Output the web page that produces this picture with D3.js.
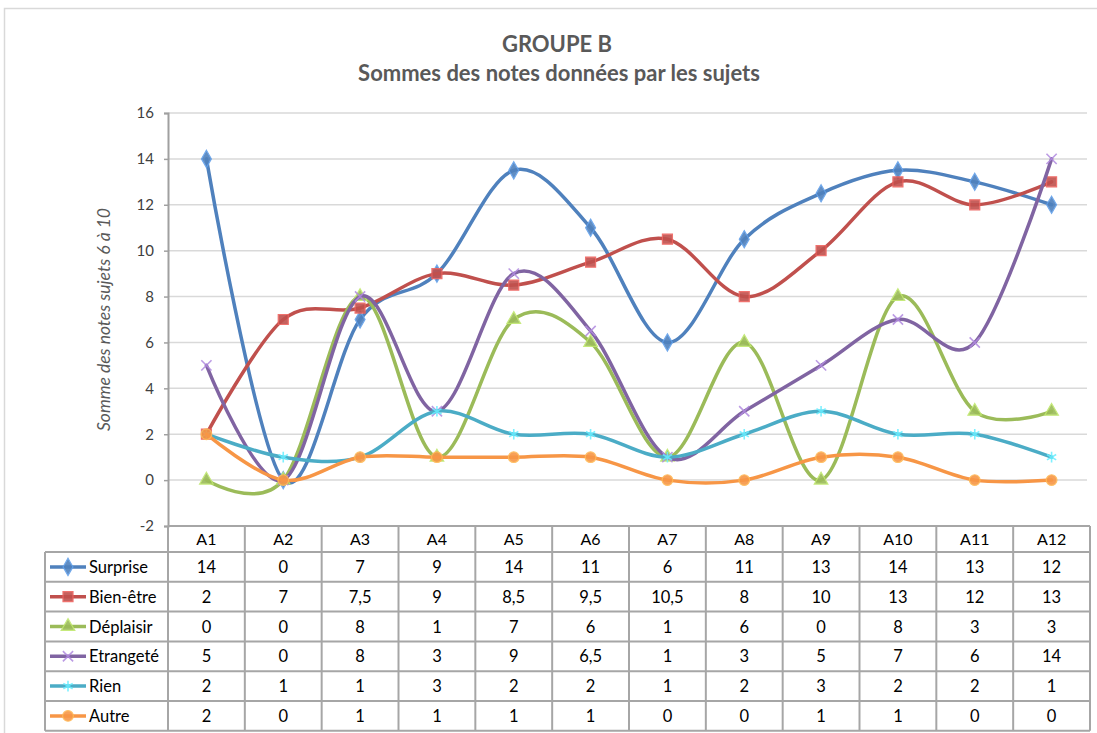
<!DOCTYPE html>
<html>
<head>
<meta charset="utf-8">
<script src="https://cdn.jsdelivr.net/npm/d3@7"></script>
<style>
  body { margin: 0; background: #fff; }
  text { font-family: Lato, "Open Sans", sans-serif; }
</style>
</head>
<body>
<svg id="chart" width="1097" height="733"></svg>
<script>
const categories = ['A1', 'A2', 'A3', 'A4', 'A5', 'A6', 'A7', 'A8', 'A9', 'A10', 'A11', 'A12'];
const seriesNames = ['Surprise', 'Bien-être', 'Déplaisir', 'Etrangeté', 'Rien', 'Autre'];
const surprise = [14, 0, 7, 9, 13.5, 11, 6, 10.5, 12.5, 13.5, 13, 12];
const bienEtre = [2, 7, 7.5, 9, 8.5, 9.5, 10.5, 8, 10, 13, 12, 13];
const deplaisir = [0, 0, 8, 1, 7, 6, 1, 6, 0, 8, 3, 3];
const etrangete = [5, 0, 8, 3, 9, 6.5, 1, 3, 5, 7, 6, 14];
const rien = [2, 1, 1, 3, 2, 2, 1, 2, 3, 2, 2, 1];
const autre = [2, 0, 1, 1, 1, 1, 0, 0, 1, 1, 0, 0];
// decimals shown in the data table for each series
const tableDecimals = [0, 1, 1, 1, 1, 1];
const yTicks = [-2, 0, 2, 4, 6, 8, 10, 12, 14, 16];

const colors = ['#4F81BD', '#C0504D', '#9BBB59', '#8064A2', '#4BACC6', '#F79646'];
const symbols = [d3.symbolDiamond, d3.symbolSquare, d3.symbolTriangle, d3.symbolTimes, d3.symbolAsterisk, d3.symbolCircle];
const symbolSizes = [85, 100, 80, 70, 80, 90];
const strokeSymbol = [false, false, false, true, true, false];

const series = [surprise, bienEtre, deplaisir, etrangete, rien, autre].map((values, i) => ({
  name: seriesNames[i], values, color: colors[i], symbol: symbols[i],
  size: symbolSizes[i], stroked: strokeSymbol[i], decimals: tableDecimals[i]
}));

const svg = d3.select('#chart');
const plotLeft = 168, plotRight = 1090, plotTop = 113, plotBottom = 526;
const tableLeft = 45, headerH = 26, rowH = 29.8;

const x = d3.scaleBand().domain(categories).range([plotLeft, plotRight]);
const y = d3.scaleLinear().domain([-2, 16]).range([plotBottom, plotTop]);
const cx = c => x(c) + x.bandwidth() / 2;

// chart border
svg.append('rect').attr('x', 4.5).attr('y', 8.5).attr('width', 1110).attr('height', 740)
  .attr('fill', 'none').attr('stroke', '#d9d9d9').attr('stroke-width', 1.5);

// titles
svg.append('text').attr('x', 557).attr('y', 52).attr('text-anchor', 'middle')
  .attr('font-size', 22).attr('font-weight', 'bold').attr('fill', '#595959').text('GROUPE B');
svg.append('text').attr('x', 559).attr('y', 81).attr('text-anchor', 'middle')
  .attr('font-size', 22).attr('font-weight', 'bold').attr('fill', '#595959').text('Sommes des notes données par les sujets');

// gridlines
svg.append('g').selectAll('line').data(yTicks.filter(t => t > -2)).join('line')
  .attr('x1', plotLeft).attr('x2', plotRight - 3)
  .attr('y1', d => y(d)).attr('y2', d => y(d))
  .attr('stroke', '#d9d9d9').attr('stroke-width', 1.5);

// y axis
const yAxis = svg.append('g').attr('transform', `translate(${plotLeft},0)`)
  .call(d3.axisLeft(y).tickValues(yTicks).tickSize(4).tickPadding(10).tickFormat(d => d));
yAxis.select('.domain').attr('stroke', '#a0a0a0').attr('stroke-width', 2);
yAxis.selectAll('.tick line').attr('stroke', '#a0a0a0').attr('stroke-width', 1.5);
yAxis.selectAll('.tick text').attr('font-size', 15).attr('fill', '#404040')
  .attr('font-family', 'Lato, sans-serif');

svg.append('text')
  .attr('transform', `translate(110,${(plotTop + plotBottom) / 2}) rotate(-90)`)
  .attr('text-anchor', 'middle').attr('font-size', 17.5).attr('font-style', 'italic')
  .attr('fill', '#595959').text('Somme des notes sujets 6 à 10');

// lines
const line = d3.line().x((d, i) => cx(categories[i])).y(d => y(d)).curve(d3.curveCatmullRom.alpha(0));

const markerPath = s => d3.symbol().type(s.symbol).size(s.size)();
function drawMarker(g, s) {
  if (s.stroked) {
    g.append('path').attr('d', markerPath(s)).attr('fill', 'none')
      .attr('stroke', d3.color(s.color).brighter(0.9)).attr('stroke-width', 1.6).attr('opacity', 0.85);
  } else {
    g.append('path').attr('d', markerPath(s)).attr('fill', s.color)
      .attr('stroke', d3.color(s.color).brighter(0.6)).attr('stroke-width', 1.2).attr('opacity', 0.9);
  }
}

series.forEach(s => {
  svg.append('path').datum(s.values).attr('d', line)
    .attr('fill', 'none').attr('stroke', s.color).attr('stroke-width', 3.5)
    .attr('stroke-linejoin', 'round').attr('stroke-linecap', 'round');
  s.values.forEach((v, i) => {
    const g = svg.append('g').attr('transform', `translate(${cx(categories[i])},${y(v)})`);
    drawMarker(g, s);
  });
});

// data table
const fmt = (v, dec) => String(+v.toFixed(dec)).replace('.', ',');
const tableColor = '#a6a6a6';
const tableTop = plotBottom;
const rowsTop = tableTop + headerH;
const tableBottom = rowsTop + rowH * series.length;
const tg = svg.append('g');

// header cells
categories.forEach(c => {
  tg.append('text').attr('x', cx(c)).attr('y', tableTop + 19).attr('text-anchor', 'middle')
    .attr('font-size', 16).attr('fill', '#000').text(c);
});

series.forEach((s, r) => {
  const ry = rowsTop + r * rowH;
  const key = tg.append('g').attr('transform', `translate(0,${ry + rowH / 2})`);
  key.append('line').attr('x1', 50).attr('x2', 86).attr('y1', 0).attr('y2', 0)
    .attr('stroke', s.color).attr('stroke-width', 3.5);
  const mk = key.append('g').attr('transform', 'translate(68,0)');
  drawMarker(mk, s);
  key.append('text').attr('x', 89).attr('y', 6).attr('font-size', 16.5).attr('fill', '#000').text(s.name);
  s.values.forEach((v, i) => {
    tg.append('text').attr('x', cx(categories[i])).attr('y', ry + rowH / 2 + 6)
      .attr('text-anchor', 'middle').attr('font-size', 16.5).attr('fill', '#000').text(fmt(v, s.decimals));
  });
});

// table grid lines
const hLines = [{ y: tableTop, x1: plotLeft }].concat(d3.range(series.length + 1).map(r => ({ y: rowsTop + r * rowH, x1: tableLeft })));
tg.selectAll('line.h').data(hLines).join('line').attr('class', 'h')
  .attr('x1', d => d.x1).attr('x2', plotRight).attr('y1', d => d.y).attr('y2', d => d.y)
  .attr('stroke', tableColor).attr('stroke-width', 2);
const vLines = categories.map(c => x(c)).concat([plotRight]);
tg.selectAll('line.v').data(vLines).join('line').attr('class', 'v')
  .attr('x1', d => d).attr('x2', d => d).attr('y1', tableTop).attr('y2', tableBottom)
  .attr('stroke', tableColor).attr('stroke-width', 2);
tg.append('line').attr('x1', tableLeft).attr('x2', tableLeft).attr('y1', rowsTop).attr('y2', tableBottom)
  .attr('stroke', tableColor).attr('stroke-width', 2);
</script>
</body>
</html>
